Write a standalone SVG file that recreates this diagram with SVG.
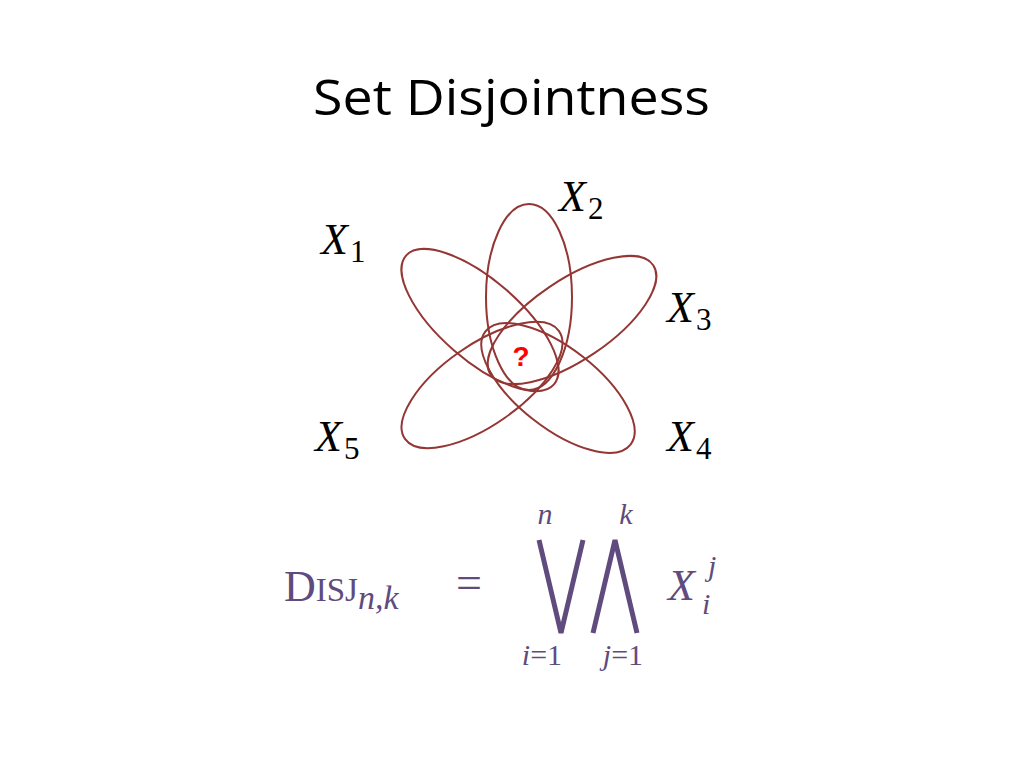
<svg xmlns="http://www.w3.org/2000/svg" width="1024" height="768" viewBox="0 0 1024 768">
<style>
.t{font-family:"Open Sans","Liberation Sans",sans-serif;font-size:50px;fill:#000}
.v{font-family:"Liberation Serif","DejaVu Serif",serif;font-style:italic;font-size:44px;fill:#000}
.s{font-family:"Liberation Serif","DejaVu Serif",serif;font-style:normal;font-size:31px}
.p{fill:none;stroke:#943634;stroke-width:2}
.f{font-family:"Liberation Serif","DejaVu Serif",serif;fill:#5f4b7d}
.fi{font-style:italic}
</style>
<rect width="1024" height="768" fill="#fff"/>
<text class="t" x="313" y="115" textLength="397" lengthAdjust="spacingAndGlyphs">Set Disjointness</text>
<g id="sets">
<ellipse id="X2" class="p" cx="529" cy="297" rx="43" ry="93"/>
<ellipse id="X1" class="p" cx="480" cy="320" rx="40" ry="98" transform="rotate(-49 480 320)"/>
<ellipse id="X3" class="p" cx="572" cy="320" rx="40" ry="98" transform="rotate(56 572 320)"/>
<ellipse id="X4" class="p" cx="558" cy="388" rx="40" ry="92" transform="rotate(-52 558 388)"/>
<ellipse id="X5" class="p" cx="482" cy="385" rx="40" ry="94" transform="rotate(55 482 385)"/>
<text x="521" y="366" text-anchor="middle" font-family="Liberation Sans,sans-serif" font-weight="bold" font-size="28" fill="#f00">?</text>
</g>
<g id="labels">
<text class="v" x="321" y="254">X<tspan class="s" dx="2" dy="8">1</tspan></text>
<text class="v" x="559" y="211">X<tspan class="s" dx="2" dy="8">2</tspan></text>
<text class="v" x="667" y="322">X<tspan class="s" dx="2" dy="8">3</tspan></text>
<text class="v" x="667" y="451">X<tspan class="s" dx="2" dy="8">4</tspan></text>
<text class="v" x="315" y="451">X<tspan class="s" dx="2" dy="8">5</tspan></text>
</g>
<g id="formula" class="f">
<text x="284" y="601" font-size="44">D<tspan font-size="33">ISJ</tspan><tspan class="fi" font-size="34" dy="8">n,k</tspan></text>
<text x="456" y="598" font-size="46">=</text>
<text x="545" y="524" class="fi" font-size="30" text-anchor="middle">n</text>
<text x="626" y="524" class="fi" font-size="30" text-anchor="middle">k</text>
<polyline points="539,540 561,633 583,540" fill="none" stroke="#5f4b7d" stroke-width="5"/>
<polyline points="593,633 615,540 637,633" fill="none" stroke="#5f4b7d" stroke-width="5"/>
<text x="542" y="665" font-size="30" text-anchor="middle"><tspan class="fi">i</tspan>=1</text>
<text x="623" y="665" font-size="30" text-anchor="middle"><tspan class="fi">j</tspan>=1</text>
<text x="668" y="600" class="fi" font-size="44">X</text>
<text x="702" y="614" class="fi" font-size="30">i</text>
<text x="708" y="576" class="fi" font-size="30">j</text>
</g>
</svg>
